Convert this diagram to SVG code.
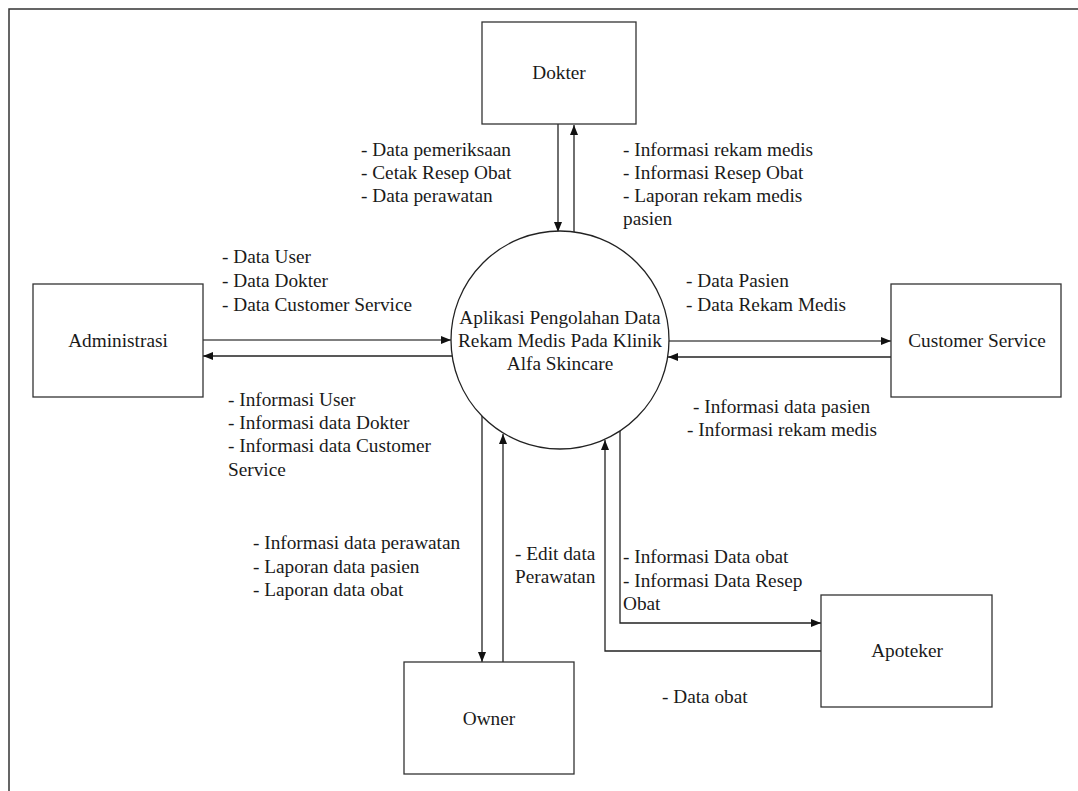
<svg xmlns="http://www.w3.org/2000/svg" width="1078" height="791" viewBox="0 0 1078 791">
<defs>
<marker id="ah" viewBox="0 0 10 8" refX="10" refY="4" markerWidth="10" markerHeight="8" markerUnits="userSpaceOnUse" orient="auto">
<path d="M0,0 L10,4 L0,8 Z" fill="#111"/>
</marker>
<style>
text{font-family:"Liberation Serif","Times New Roman",serif;font-size:19.3px;fill:#1a1a1a}
.c{text-anchor:middle}
.box{fill:#fff;stroke:#333;stroke-width:1.3}
.ln{fill:none;stroke:#222;stroke-width:1.3}
.fr{fill:none;stroke:#333;stroke-width:1.5}
</style>
</defs>
<rect width="1078" height="791" fill="#fff"/>
<path class="fr" d="M9,791 V9 H1078"/>
<g id="connectors">
<line class="ln" x1="558" y1="124" x2="558" y2="232" marker-end="url(#ah)"/>
<line class="ln" x1="574" y1="233" x2="574" y2="125" marker-end="url(#ah)"/>
<line class="ln" x1="203" y1="340" x2="451" y2="340" marker-end="url(#ah)" style="stroke:#555"/>
<line class="ln" x1="452" y1="356" x2="203" y2="356" marker-end="url(#ah)"/>
<line class="ln" x1="668" y1="341" x2="891" y2="341" marker-end="url(#ah)" style="stroke:#555"/>
<line class="ln" x1="891" y1="357" x2="668" y2="357" marker-end="url(#ah)"/>
<line class="ln" x1="482" y1="414" x2="482" y2="662" marker-end="url(#ah)"/>
<line class="ln" x1="503" y1="666" x2="503" y2="434" marker-end="url(#ah)"/>
<polyline class="ln" points="620,431 620,623 821,623" marker-end="url(#ah)"/>
<polyline class="ln" points="821,651 605,651 605,440" marker-end="url(#ah)"/>
</g>
<g id="process">
<circle cx="560" cy="340" r="109" fill="#fff" stroke="#222" stroke-width="1.3"/>
<text class="c" x="560" y="324">Aplikasi Pengolahan Data</text>
<text class="c" x="560" y="347">Rekam Medis Pada Klinik</text>
<text class="c" x="560" y="370">Alfa Skincare</text>
</g>
<g id="dokter">
<rect class="box" x="482" y="22" width="154" height="102"/>
<text class="c" x="559" y="79">Dokter</text>
</g>
<g id="administrasi">
<rect class="box" x="33" y="284" width="170" height="113"/>
<text class="c" x="118" y="347">Administrasi</text>
</g>
<g id="customer-service">
<rect class="box" x="891" y="284" width="170" height="113"/>
<text class="c" x="977" y="347">Customer Service</text>
</g>
<g id="owner">
<rect class="box" x="404" y="662" width="170" height="112"/>
<text class="c" x="489" y="725">Owner</text>
</g>
<g id="apoteker">
<rect class="box" x="821" y="595" width="171" height="112"/>
<text class="c" x="907" y="657">Apoteker</text>
</g>
<g id="labels">
<text x="361" y="156">- Data pemeriksaan</text>
<text x="361" y="179">- Cetak Resep Obat</text>
<text x="361" y="202">- Data perawatan</text>
<text x="623" y="156">- Informasi rekam medis</text>
<text x="623" y="179">- Informasi Resep Obat</text>
<text x="623" y="202">- Laporan rekam medis</text>
<text x="623" y="225">pasien</text>
<text x="222" y="263">- Data User</text>
<text x="222" y="287">- Data Dokter</text>
<text x="222" y="311">- Data Customer Service</text>
<text x="228" y="406">- Informasi User</text>
<text x="228" y="429">- Informasi data Dokter</text>
<text x="228" y="452">- Informasi data Customer</text>
<text x="228" y="476">Service</text>
<text x="686" y="287">- Data Pasien</text>
<text x="686" y="311">- Data Rekam Medis</text>
<text x="693" y="413">- Informasi data pasien</text>
<text x="687" y="436">- Informasi rekam medis</text>
<text x="253" y="549">- Informasi data perawatan</text>
<text x="253" y="573">- Laporan data pasien</text>
<text x="253" y="596">- Laporan data obat</text>
<text x="515" y="560">- Edit data</text>
<text x="515" y="583">Perawatan</text>
<text x="623" y="563">- Informasi Data obat</text>
<text x="623" y="587">- Informasi Data Resep</text>
<text x="623" y="610">Obat</text>
<text x="662" y="703">- Data obat</text>
</g>
</svg>
